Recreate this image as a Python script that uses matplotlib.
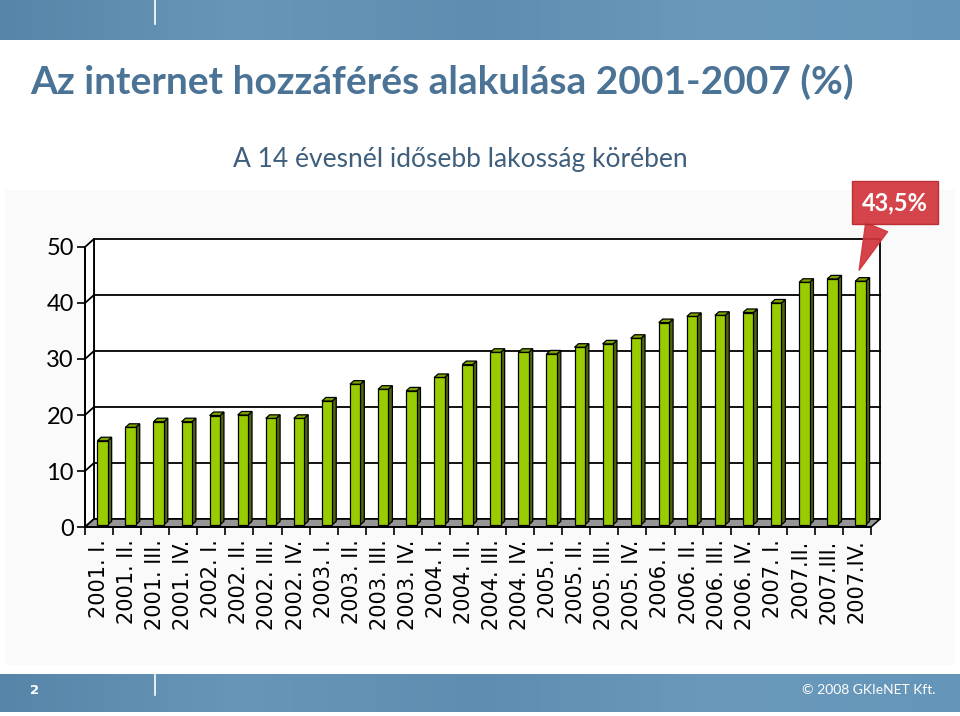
import numpy as np
import matplotlib
matplotlib.use("Agg")
import matplotlib.pyplot as plt
from matplotlib.patches import Polygon, Rectangle

# --- data ---
quarters = ["2001. I.", "2001. II.", "2001. III.", "2001. IV.",
            "2002. I.", "2002. II.", "2002. III.", "2002. IV.",
            "2003. I.", "2003. II.", "2003. III.", "2003. IV.",
            "2004. I.", "2004. II.", "2004. III.", "2004. IV.",
            "2005. I.", "2005. II.", "2005. III.", "2005. IV.",
            "2006. I.", "2006. II.", "2006. III.", "2006. IV.",
            "2007. I.", "2007.II.", "2007.III.", "2007.IV."]
access_pct = [15.0, 17.4, 18.4, 18.4, 19.5, 19.6, 19.0, 19.0,
              22.1, 25.1, 24.2, 23.9, 26.3, 28.6, 30.8, 30.8,
              30.5, 31.7, 32.3, 33.3, 36.1, 37.2, 37.4, 37.9,
              39.6, 43.3, 43.9, 43.5]
y_ticks = [0, 10, 20, 30, 40, 50]
callout_label = "43,5%"

title = "Az internet hozzáférés alakulása 2001-2007 (%)"
subtitle = "A 14 évesnél idősebb lakosság körében"

# --- colours ---
GREEN = "#99cc00"
GREEN_SIDE = "#4f6410"
GREEN_TOP = "#7da600"
FLOOR = "#969696"
TITLE_C = "#4a7396"
SUB_C = "#3f5f7c"
RED = "#d2343c"
HUMAN = ["Lato", "DejaVu Sans"]

W, H = 960, 716
fig = plt.figure(figsize=(W / 100, H / 100), dpi=100)
fig.patch.set_facecolor("white")

def px(x0, y0, x1, y1):
    # figure rect from pixel box (top-left origin)
    return [x0 / W, 1 - y1 / H, (x1 - x0) / W, (y1 - y0) / H]

# faint slide panel behind the chart
fig.patches.append(Rectangle((5 / W, 1 - 665 / H), 950 / W, 475 / H,
                             transform=fig.transFigure, fc="#fafafa", ec="none",
                             zorder=-10))

# --- header / footer bands (horizontal blue gradient) ---
grad = np.linspace(0, 1, 256).reshape(1, -1)
band_cmap = matplotlib.colors.LinearSegmentedColormap.from_list(
    "band", ["#5785a9", "#6896b8", "#5f8db1", "#6a99bb", "#6596b9"])
for box, line_from in ((px(0, 0, 960, 40), 0.4), (px(0, 674, 960, 712), 0.45)):
    bax = fig.add_axes(box)
    bax.imshow(grad, aspect="auto", cmap=band_cmap, extent=(0, 1, 0, 1))
    bax.set_xlim(0, 1); bax.set_ylim(0, 1)
    bax.axis("off")
    bax.plot([155 / W, 155 / W], [line_from, 1.0], color="white", lw=1.2)
fig.text(35 / W, 1 - 690 / H, "2", color="white", fontsize=9.5, fontweight="bold",
         ha="center", va="center")
fig.text(935 / W, 1 - 690 / H, "© 2008 GKIeNET Kft.", color="white", fontsize=10,
         ha="right", va="center", family=HUMAN)

# --- titles ---
fig.text(30 / W, 1 - 82 / H, title, fontsize=28, fontweight="bold", color=TITLE_C,
         ha="left", va="center", family=HUMAN)
fig.text(460 / W, 1 - 160 / H, subtitle, fontsize=19, color=SUB_C,
         ha="center", va="center", family=HUMAN)

# --- pseudo 3D column chart ---
n = len(access_pct)
ax = fig.add_axes(px(85, 247, 871, 527))
ax.set_xlim(0, n)
ax.set_ylim(0, 50)
ax.patch.set_visible(False)

DX, DY = 0.32, 1.43        # depth of the walls
BDX, BDY = 0.09, 0.40      # front face of a column sits a bit inside the floor
SX, SY = 0.14, 0.63        # column depth
BX, BW = 0.35, 0.37        # column left edge / width in category units

# back wall, left wall, floor
ax.add_patch(Rectangle((DX, DY), n, 50, fc="white", ec="black", lw=1.3, zorder=1,
                       clip_on=False))
ax.add_patch(Polygon([(0, 0), (DX, DY), (DX, 50 + DY), (0, 50)], closed=True,
                     fc="white", ec="black", lw=1.3, zorder=1, clip_on=False))
for v in y_ticks[1:-1]:
    ax.plot([0, DX, n + DX], [v, v + DY, v + DY], color="black", lw=1.3, zorder=2,
            clip_on=False)
ax.add_patch(Polygon([(0, 0), (n, 0), (n + DX, DY), (DX, DY)], closed=True,
                     fc=FLOOR, ec="black", lw=1.2, zorder=3, clip_on=False))

x = np.arange(n)
left = x + BX + BDX
ax.bar(left, access_pct, width=BW, bottom=BDY, align="edge", color=GREEN,
       edgecolor="black", linewidth=0.9, zorder=5, clip_on=False)
for x0, v in zip(left, access_pct):
    x1 = x0 + BW
    top = v + BDY
    ax.add_patch(Polygon([(x1, BDY), (x1 + SX, BDY + SY), (x1 + SX, top + SY), (x1, top)],
                         closed=True, fc=GREEN_SIDE, ec="black", lw=0.9, zorder=4,
                         clip_on=False))
    ax.add_patch(Polygon([(x0, top), (x1, top), (x1 + SX, top + SY), (x0 + SX, top + SY)],
                         closed=True, fc=GREEN_TOP, ec="black", lw=0.9, zorder=6,
                         clip_on=False))

# axes / ticks
for s in ("top", "right"):
    ax.spines[s].set_visible(False)
for s in ("left", "bottom"):
    ax.spines[s].set_linewidth(1.3)
    ax.spines[s].set_zorder(7)
ax.set_yticks(y_ticks)
ax.set_yticklabels([str(t) for t in y_ticks], fontsize=17, family=HUMAN)
ax.tick_params(axis="y", direction="out", length=6, width=1.2, pad=2)
ax.set_xticks(np.arange(n + 1))
ax.set_xticklabels([])
ax.set_xticks(x + 0.5, minor=True)
ax.set_xticklabels(quarters, minor=True, rotation=90, fontsize=15, va="top")
ax.tick_params(axis="x", which="major", direction="out", length=6, width=1.2)
ax.tick_params(axis="x", which="minor", length=0, pad=9)

# callout on the last column
ax.annotate(callout_label, xy=(n - 1 + 0.54, access_pct[-1] + 1.9),
            xytext=(37, 70), textcoords="offset pixels",
            ha="center", va="center", fontsize=17, fontweight="bold", color="white",
            family=HUMAN,
            bbox=dict(boxstyle="square,pad=0.42", fc=RED, ec="#b8262d", alpha=0.92),
            arrowprops=dict(arrowstyle="wedge,tail_width=1.0,shrink_factor=0.5",
                            fc=RED, ec=RED, alpha=0.92, relpos=(0.3, 0.0)),
            zorder=10, annotation_clip=False)

fig.savefig("out.png", dpi=100)
